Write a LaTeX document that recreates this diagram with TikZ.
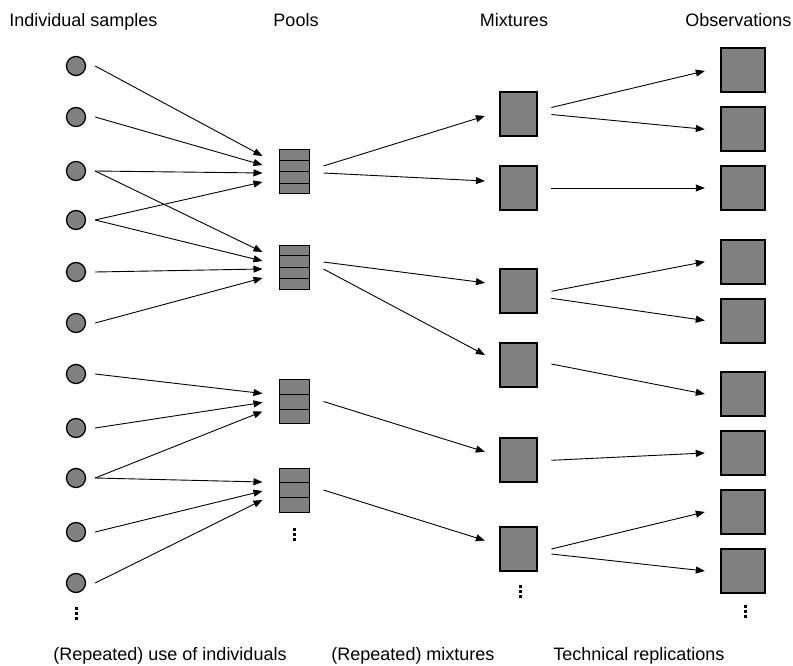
\documentclass[tikz,border=0pt]{standalone}
\usepackage{fontspec}
\setmainfont{Liberation Sans}
\usetikzlibrary{arrows.meta,calc}
\definecolor{boxgray}{RGB}{128,128,128}
\begin{document}
\begin{tikzpicture}[x=1pt,y=-1pt,
  every node/.style={font=\fontsize{18}{21}\selectfont},
  sample/.style={circle,draw=black,fill=boxgray,line width=1.3pt,minimum size=19pt,inner sep=0pt},
  poolbox/.style={rectangle,draw=black,fill=boxgray,line width=1pt,minimum width=30pt,minimum height=44pt,inner sep=0pt},
  mixbox/.style={rectangle,draw=black,fill=boxgray,line width=2pt,minimum width=37pt,minimum height=44pt,inner sep=0pt},
  obsbox/.style={rectangle,draw=black,fill=boxgray,line width=2pt,minimum width=44pt,minimum height=44pt,inner sep=0pt},
  arr/.style={line width=0.9pt,-{Triangle[length=9pt,width=7pt]}},
  heading/.style={anchor=base,inner sep=0pt},
  pics/moredots/.style={code={
    \foreach \d in {-5,0,5} \fill[black] (-1.5,\d-1.5) rectangle (1.5,\d+1.5);
  }}
]
\useasboundingbox (0,0) rectangle (793,666);
\fill[white] (0,0) rectangle (793,666);

% headings
\node[heading] (hSamples) at (83.3,26.3) {Individual samples};
\node[heading] (hPools) at (296,26.3) {Pools};
\node[heading] (hMix) at (514,26.3) {Mixtures};
\node[heading] (hObs) at (738.3,26.3) {Observations};
\node[heading] (fUse) at (170,660.5) {(Repeated) use of individuals};
\node[heading] (fMix) at (413,660.5) {(Repeated) mixtures};
\node[heading] (fTech) at (638.8,660.5) {Technical replications};

% individual samples
\foreach \i/\y in {1/66,2/117,3/171,4/220,5/272,6/323,7/374,8/428,9/478,10/532,11/583}
  \node[sample] (s\i) at (76,\y) {};
\pic at (76,613.5) {moredots};

% pools (4 or 3 compartments)
\node[poolbox] (p1) at (294,172) {};
\node[poolbox] (p2) at (294,267) {};
\node[poolbox] (p3) at (294,401.5) {};
\node[poolbox] (p4) at (294,490) {};
\foreach \p in {p1,p2}
  \foreach \k in {1,2,3}
    \draw[line width=1pt] ($(\p.north west)!\k/4!(\p.south west)$) -- ($(\p.north east)!\k/4!(\p.south east)$);
\foreach \p in {p3,p4}
  \foreach \k in {1,2}
    \draw[line width=1pt] ($(\p.north west)!\k/3!(\p.south west)$) -- ($(\p.north east)!\k/3!(\p.south east)$);
\pic at (294,534.5) {moredots};

% mixtures
\foreach \i/\y in {1/114.5,2/188,3/291.3,4/365,5/460.3,6/549}
  \node[mixbox] (m\i) at (518.4,\y) {};
\pic at (520,591.5) {moredots};

% observations
\foreach \i/\y in {1/70,2/129.3,3/188,4/261.7,5/320.5,6/394,7/453,8/512,9/571}
  \node[obsbox] (o\i) at (742.8,\y) {};
\pic at (745.7,611.5) {moredots};

% samples -> pools
\foreach \s/\p/\d in {1/1/-16,2/1/-7,3/1/1,4/1/10,
                      3/2/-15,4/2/-6,5/2/2,6/2/11,
                      7/3/-8,8/3/1,9/3/10,
                      9/4/-8,10/4/1,11/4/10}
  \draw[arr] ($(s\s.east)+(9,0)$) -- ($(p\p.west)+(-16,\d)$);

% pools -> mixtures
\foreach \p/\m/\a/\b in {1/1/-6/1.5,1/2/1/-7,2/3/-5/-8.5,2/4/2/-10,3/5/0/-8.5,4/6/0/-8.5}
  \draw[arr] ($(p\p.east)+(14,\a)$) -- ($(m\m.west)+(-14,\b)$);

% mixtures -> observations
\foreach \m/\o/\a/\b in {1/1/-7/1,1/2/0/0,2/3/0/0,3/4/0/0,3/5/7/0,4/6/-1/0,5/7/0/0,6/8/0/0,6/9/5/0}
  \draw[arr] ($(m\m.east)+(13.5,\a)$) -- ($(o\o.west)+(-15,\b)$);
\end{tikzpicture}
\end{document}
